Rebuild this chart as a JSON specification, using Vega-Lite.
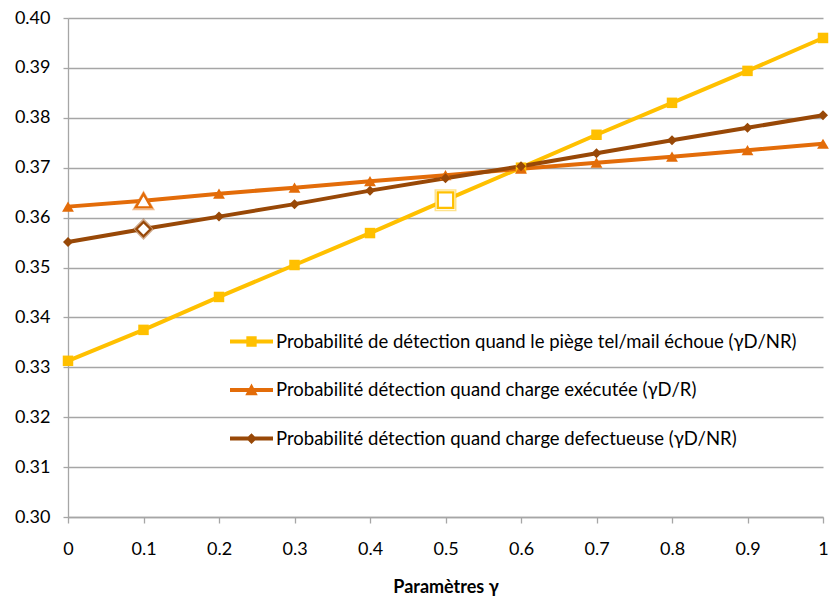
{
  "$schema": "https://vega.github.io/schema/vega-lite/v6.json",
  "width": 755,
  "height": 499,
  "autosize": {"type": "none"},
  "padding": {"left": 68, "top": 18, "right": 6, "bottom": 83},
  "background": "white",
  "config": {
    "font": "Lato",
    "view": {"stroke": null},
    "axis": {"labelFont": "Lato", "titleFont": "Lato", "labelColor": "#000000", "titleColor": "#000000"}
  },
  "data": {
    "values": [
      {"g": 0.0, "series": "Probabilité de détection quand le piège tel/mail échoue (γD/NR)", "v": 0.3313},
      {"g": 0.1, "series": "Probabilité de détection quand le piège tel/mail échoue (γD/NR)", "v": 0.3375},
      {"g": 0.2, "series": "Probabilité de détection quand le piège tel/mail échoue (γD/NR)", "v": 0.3441},
      {"g": 0.3, "series": "Probabilité de détection quand le piège tel/mail échoue (γD/NR)", "v": 0.3505},
      {"g": 0.4, "series": "Probabilité de détection quand le piège tel/mail échoue (γD/NR)", "v": 0.3569},
      {"g": 0.5, "series": "Probabilité de détection quand le piège tel/mail échoue (γD/NR)", "v": 0.3635},
      {"g": 0.6, "series": "Probabilité de détection quand le piège tel/mail échoue (γD/NR)", "v": 0.3700},
      {"g": 0.7, "series": "Probabilité de détection quand le piège tel/mail échoue (γD/NR)", "v": 0.3766},
      {"g": 0.8, "series": "Probabilité de détection quand le piège tel/mail échoue (γD/NR)", "v": 0.3830},
      {"g": 0.9, "series": "Probabilité de détection quand le piège tel/mail échoue (γD/NR)", "v": 0.3894},
      {"g": 1.0, "series": "Probabilité de détection quand le piège tel/mail échoue (γD/NR)", "v": 0.3960},
      {"g": 0.0, "series": "Probabilité détection quand charge exécutée (γD/R)", "v": 0.3622},
      {"g": 0.1, "series": "Probabilité détection quand charge exécutée (γD/R)", "v": 0.3634},
      {"g": 0.2, "series": "Probabilité détection quand charge exécutée (γD/R)", "v": 0.3648},
      {"g": 0.3, "series": "Probabilité détection quand charge exécutée (γD/R)", "v": 0.3660},
      {"g": 0.4, "series": "Probabilité détection quand charge exécutée (γD/R)", "v": 0.3673},
      {"g": 0.5, "series": "Probabilité détection quand charge exécutée (γD/R)", "v": 0.3685},
      {"g": 0.6, "series": "Probabilité détection quand charge exécutée (γD/R)", "v": 0.3698},
      {"g": 0.7, "series": "Probabilité détection quand charge exécutée (γD/R)", "v": 0.3710},
      {"g": 0.8, "series": "Probabilité détection quand charge exécutée (γD/R)", "v": 0.3722},
      {"g": 0.9, "series": "Probabilité détection quand charge exécutée (γD/R)", "v": 0.3735},
      {"g": 1.0, "series": "Probabilité détection quand charge exécutée (γD/R)", "v": 0.3748},
      {"g": 0.0, "series": "Probabilité détection quand charge defectueuse (γD/NR)", "v": 0.3551},
      {"g": 0.1, "series": "Probabilité détection quand charge defectueuse (γD/NR)", "v": 0.3577},
      {"g": 0.2, "series": "Probabilité détection quand charge defectueuse (γD/NR)", "v": 0.3602},
      {"g": 0.3, "series": "Probabilité détection quand charge defectueuse (γD/NR)", "v": 0.3627},
      {"g": 0.4, "series": "Probabilité détection quand charge defectueuse (γD/NR)", "v": 0.3654},
      {"g": 0.5, "series": "Probabilité détection quand charge defectueuse (γD/NR)", "v": 0.3679},
      {"g": 0.6, "series": "Probabilité détection quand charge defectueuse (γD/NR)", "v": 0.3703},
      {"g": 0.7, "series": "Probabilité détection quand charge defectueuse (γD/NR)", "v": 0.3729},
      {"g": 0.8, "series": "Probabilité détection quand charge defectueuse (γD/NR)", "v": 0.3755},
      {"g": 0.9, "series": "Probabilité détection quand charge defectueuse (γD/NR)", "v": 0.3780},
      {"g": 1.0, "series": "Probabilité détection quand charge defectueuse (γD/NR)", "v": 0.3805}
    ]
  },
  "encoding": {
    "x": {
      "field": "g", "type": "quantitative",
      "scale": {"domain": [0, 1], "nice": false, "zero": false},
      "axis": {
        "title": "Paramètres  γ", "titleFontSize": 18, "titleFontWeight": "bold", "titlePadding": 20,
        "values": [0, 0.1, 0.2, 0.3, 0.4, 0.5, 0.6, 0.7, 0.8, 0.9, 1],
        "labelExpr": "datum.value == 0 ? '0' : datum.value == 1 ? '1' : format(datum.value, '.1f')",
        "labelFontSize": 18, "labelPadding": 17, "labelFlush": false,
        "grid": false, "domainColor": "#a6a6a6", "domainWidth": 1.3,
        "tickColor": "#a6a6a6", "tickSize": 6, "tickWidth": 1.3
      }
    },
    "y": {
      "field": "v", "type": "quantitative",
      "scale": {"domain": [0.30, 0.40], "nice": false, "zero": false},
      "axis": {
        "title": null, "values": [0.30, 0.31, 0.32, 0.33, 0.34, 0.35, 0.36, 0.37, 0.38, 0.39, 0.40],
        "format": ".2f", "labelFontSize": 18, "labelPadding": 13,
        "grid": true, "gridColor": "#a6a6a6", "gridWidth": 1.3,
        "domainColor": "#a6a6a6", "domainWidth": 1.3,
        "tickColor": "#a6a6a6", "tickSize": 5, "tickWidth": 1.3
      }
    }
  },
  "layer": [
    {
      "mark": {"type": "line", "strokeWidth": 4},
      "encoding": {
        "color": {
          "field": "series", "type": "nominal",
          "scale": {
            "domain": ["Probabilité de détection quand le piège tel/mail échoue (γD/NR)", "Probabilité détection quand charge exécutée (γD/R)", "Probabilité détection quand charge defectueuse (γD/NR)"],
            "range": ["#FFC000", "#E36C09", "#984807"]
          },
          "legend": {
            "title": null, "orient": "none", "legendX": 162, "legendY": 302,
            "padding": 0, "rowPadding": 17.5, "symbolSize": 1849, "symbolStrokeWidth": 0,
            "labelFontSize": 18.5, "labelColor": "#000000", "labelOffset": 3, "labelLimit": 700,
            "encode": {
              "symbols": {
                "update": {
                  "shape": {"signal": "indexof(datum.value, 'piège') >= 0 ? 'M-1,-0.093H1V0.093H-1ZM-0.24,-0.24H0.24V0.24H-0.24Z' : indexof(datum.value, 'exécutée') >= 0 ? 'M-1,-0.093H1V0.093H-1ZM0,-0.3L0.29,0.24H-0.29Z' : 'M-1,-0.093H1V0.093H-1ZM0,-0.25L0.25,0L0,0.25L-0.25,0Z'"},
                  "size": {"value": 1849},
                  "fill": {"signal": "scale('color', datum.value)"},
                  "strokeWidth": {"value": 0},
                  "opacity": {"value": 1},
                  "fillOpacity": {"value": 1}
                }
              }
            }
          }
        }
      }
    },
    {
      "transform": [{"filter": "indexof(datum.series, 'piège') >= 0"}],
      "layer": [
        {"mark": {"type": "point", "shape": "square", "filled": true, "opacity": 1, "color": "#FFC000", "size": 110}},
        {"transform": [{"filter": "datum.g == 0.5"}], "mark": {"type": "point", "shape": "square", "filled": false, "fill": "white", "fillOpacity": 1, "stroke": "#FFC000", "strokeOpacity": 0.45, "strokeWidth": 1.5, "size": 420}},
        {"transform": [{"filter": "datum.g == 0.5"}], "mark": {"type": "point", "shape": "square", "filled": false, "fill": "white", "fillOpacity": 1, "stroke": "#FFC000", "strokeWidth": 2.4, "size": 240}}
      ]
    },
    {
      "transform": [{"filter": "indexof(datum.series, 'exécutée') >= 0"}],
      "layer": [
        {"mark": {"type": "point", "shape": "triangle-up", "filled": true, "opacity": 1, "color": "#E36C09", "size": 140}},
        {"transform": [{"filter": "datum.g == 0.1"}], "mark": {"type": "point", "shape": "triangle-up", "filled": false, "fill": "white", "fillOpacity": 1, "stroke": "#E36C09", "strokeOpacity": 0.45, "strokeWidth": 1.5, "size": 420}},
        {"transform": [{"filter": "datum.g == 0.1"}], "mark": {"type": "point", "shape": "triangle-up", "filled": false, "fill": "white", "fillOpacity": 1, "stroke": "#E36C09", "strokeWidth": 2.4, "size": 240}}
      ]
    },
    {
      "transform": [{"filter": "indexof(datum.series, 'defectueuse') >= 0"}],
      "layer": [
        {"mark": {"type": "point", "shape": "diamond", "filled": true, "opacity": 1, "color": "#984807", "size": 100}},
        {"transform": [{"filter": "datum.g == 0.1"}], "mark": {"type": "point", "shape": "diamond", "filled": false, "fill": "white", "fillOpacity": 1, "stroke": "#984807", "strokeOpacity": 0.45, "strokeWidth": 1.5, "size": 380}},
        {"transform": [{"filter": "datum.g == 0.1"}], "mark": {"type": "point", "shape": "diamond", "filled": false, "fill": "white", "fillOpacity": 1, "stroke": "#984807", "strokeWidth": 2.4, "size": 210}}
      ]
    }
  ]
}
